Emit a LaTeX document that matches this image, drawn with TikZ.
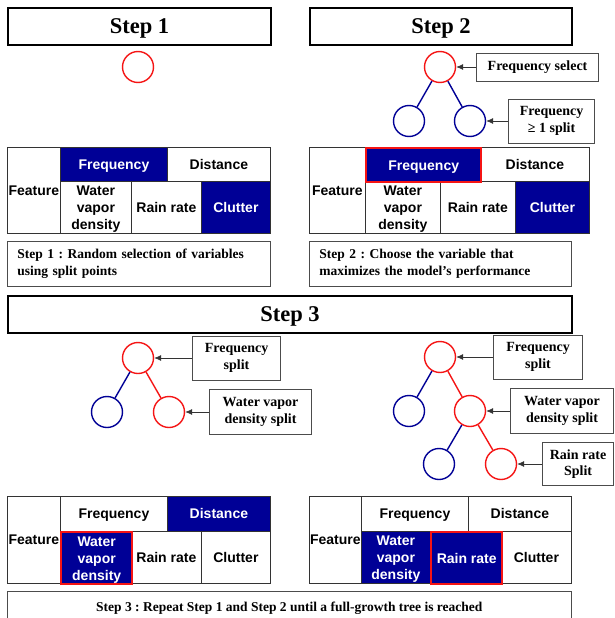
\documentclass[tikz,border=0pt]{standalone}
\usepackage{fontspec}
\setmainfont{Liberation Serif}
\setsansfont{Liberation Sans}
\usetikzlibrary{arrows.meta,positioning}
\frenchspacing

\definecolor{navyc}{RGB}{0,0,150}
\definecolor{redc}{RGB}{245,20,20}
\newcommand\ttlfont{\bfseries\fontsize{22.5}{26}\selectfont}
\newcommand\tagfont{\bfseries\fontsize{14}{16.5}\selectfont}
\newcommand\notefont{\bfseries\fontsize{13.5}{17}\selectfont}
\newcommand\cellfont{\sffamily\bfseries\fontsize{14}{17}\selectfont}

\tikzset{
  title/.style={draw,line width=2pt,anchor=north west,inner sep=0pt,minimum height=37pt,text depth=0pt,font=\ttlfont},
  tcell/.style={draw=black!80,line width=0.8pt,anchor=north west,inner sep=0pt,align=center,text depth=0pt,font=\cellfont},
  hot/.style={fill=navyc,text=white},
  pick/.style={draw=redc,line width=2.4pt},
  rnode/.style={circle,draw=redc,line width=1.4pt,minimum size=31pt,inner sep=0pt},
  bnode/.style={circle,draw=navyc,line width=1.4pt,minimum size=31pt,inner sep=0pt},
  tag/.style={draw=black!70,line width=0.7pt,align=center,inner sep=0pt,font=\tagfont},
  note/.style={draw=black!70,line width=0.7pt,anchor=north west,inner sep=0pt,font=\notefont},
  rlink/.style={draw=redc,line width=1.4pt},
  blink/.style={draw=navyc,line width=1.4pt},
  ptr/.style={->,draw=black!80,line width=0.7pt}
}

\begin{document}
\begin{tikzpicture}[x=1pt,y=-1pt,>={Latex[length=7pt,width=6pt]}]
\useasboundingbox[fill=white] (0,0) rectangle (614,618);

% titles
\node[title,minimum width=263pt] (s1) at (7,7) {Step 1};
\node[title,minimum width=262pt] (s2) at (309,7) {Step 2};
\node[title,minimum width=564pt] (s3) at (7,295) {Step 3};

% step 1 tree
\node[rnode] (r1) at (138,67) {};

% step 2 tree
\node[rnode] (r2) at (440,67) {};
\node[bnode] (l2) at (409,121) {};
\node[bnode] (c2) at (470,121) {};
\path (r2) edge[blink] (l2) (r2) edge[blink] (c2);
\node[tag,minimum width=122pt,minimum height=28pt,right=20pt of r2] (sel2) {Frequency select};
\node[tag,minimum width=86pt,minimum height=44pt,right=22pt of c2] (spl2) {Frequency\\≥ 1 split};
\draw[ptr] (sel2) -- (r2);
\draw[ptr] (spl2) -- (c2);

% step 3 tree, left
\node[rnode] (r3) at (138,358) {};
\node[bnode] (l3) at (107,412) {};
\node[rnode] (c3) at (169,412) {};
\path (r3) edge[blink] (l3) (r3) edge[rlink] (c3);
\node[tag,minimum width=88pt,minimum height=44pt,right=38pt of r3] (fs3) {Frequency\\split};
\node[tag,minimum width=102pt,minimum height=45pt,right=24pt of c3] (ws3) {Water vapor\\density split};
\draw[ptr] (fs3) -- (r3);
\draw[ptr] (ws3) -- (c3);

% step 3 tree, right
\node[rnode] (r4) at (440,357) {};
\node[bnode] (l4) at (409,411) {};
\node[rnode] (c4) at (470,411) {};
\node[bnode] (m4) at (439,464) {};
\node[rnode] (g4) at (501,464) {};
\path (r4) edge[blink] (l4) (r4) edge[rlink] (c4)
      (c4) edge[blink] (m4) (c4) edge[rlink] (g4);
\node[tag,minimum width=89pt,minimum height=44pt,right=37pt of r4] (fs4) {Frequency\\split};
\node[tag,minimum width=103pt,minimum height=45pt,right=24pt of c4] (ws4) {Water vapor\\density split};
\node[tag,minimum width=71pt,minimum height=43pt,right=25pt of g4] (rs4) {Rain rate\\Split};
\draw[ptr] (fs4) -- (r4);
\draw[ptr] (ws4) -- (c4);
\draw[ptr] (rs4) -- (g4);

% table 1
\node[tcell,minimum width=53pt,minimum height=86pt] (fe1) at (7,147) {Feature};
\node[tcell,hot,minimum width=107pt,minimum height=34pt] (fq1) at (60,147) {Frequency};
\node[tcell,minimum width=103pt,minimum height=34pt] (di1) at (167,147) {Distance};
\node[tcell,minimum width=71pt,minimum height=52pt] (wv1) at (60,181) {Water\\vapor\\density};
\node[tcell,minimum width=70pt,minimum height=52pt] (rr1) at (131,181) {Rain rate};
\node[tcell,hot,minimum width=69pt,minimum height=52pt] (cl1) at (201,181) {Clutter};

% table 2
\node[tcell,minimum width=56pt,minimum height=86pt] (fe2) at (309,147) {Feature};
\node[tcell,minimum width=109pt,minimum height=34pt] (di2) at (480,147) {Distance};
\node[tcell,minimum width=75pt,minimum height=52pt] (wv2) at (365,181) {Water\\vapor\\density};
\node[tcell,minimum width=75pt,minimum height=52pt] (rr2) at (440,181) {Rain rate};
\node[tcell,hot,minimum width=74pt,minimum height=52pt] (cl2) at (515,181) {Clutter};
\node[tcell,hot,pick,minimum width=115pt,minimum height=34pt] (fq2) at (365,147) {Frequency};

% table 3
\node[tcell,minimum width=53pt,minimum height=87pt] (fe3) at (7,496) {Feature};
\node[tcell,minimum width=107pt,minimum height=35pt] (fq3) at (60,496) {Frequency};
\node[tcell,hot,minimum width=103pt,minimum height=35pt] (di3) at (167,496) {Distance};
\node[tcell,minimum width=70pt,minimum height=52pt] (rr3) at (131,531) {Rain rate};
\node[tcell,minimum width=69pt,minimum height=52pt] (cl3) at (201,531) {Clutter};
\node[tcell,hot,pick,minimum width=71pt,minimum height=52pt] (wv3) at (60,531) {Water\\vapor\\density};

% table 4
\node[tcell,minimum width=52pt,minimum height=87pt] (fe4) at (309,496) {Feature};
\node[tcell,minimum width=107pt,minimum height=35pt] (fq4) at (361,496) {Frequency};
\node[tcell,minimum width=103pt,minimum height=35pt] (di4) at (468,496) {Distance};
\node[tcell,hot,minimum width=69pt,minimum height=52pt] (wv4) at (361,531) {Water\\vapor\\density};
\node[tcell,minimum width=70pt,minimum height=52pt] (cl4) at (501,531) {Clutter};
\node[tcell,hot,pick,minimum width=71pt,minimum height=52pt] (rr4) at (430,531) {Rain rate};

% step notes
\node[note,minimum width=263pt,minimum height=45pt,text width=243pt,inner xsep=10pt,align=left] (n1) at (7,241)
  {Step 1 : Random selection of variables\\using split points};
\node[note,minimum width=262pt,minimum height=45pt,text width=242pt,inner xsep=10pt,align=left] (n2) at (309,241)
  {Step 2 : Choose the variable that\\maximizes the model's performance};
\node[note,minimum width=564pt,minimum height=34pt,anchor=north west] (n3) at (7,591)
  {Step 3 : Repeat Step 1 and Step 2 until a full-growth tree is reached};
\end{tikzpicture}
\end{document}
